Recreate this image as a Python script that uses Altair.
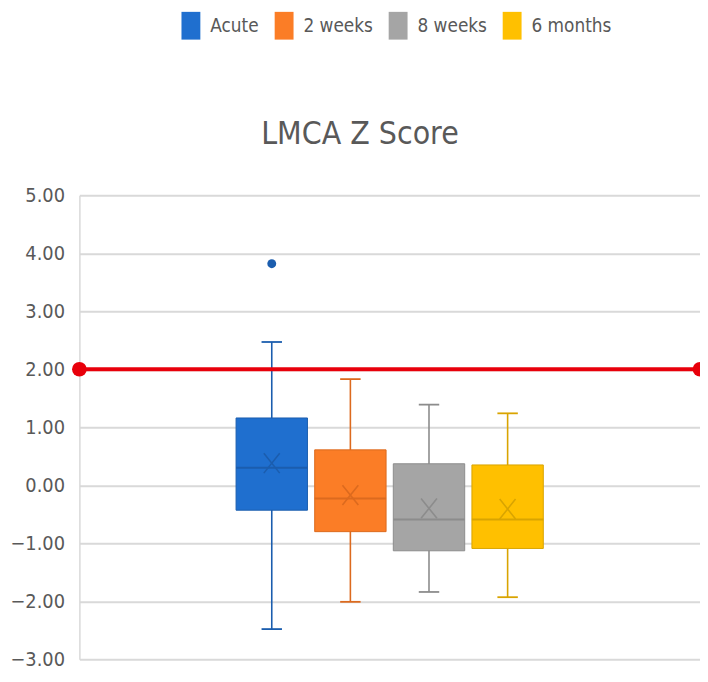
import altair as alt
import pandas as pd

# ---- data ----
groups = ["Acute", "2 weeks", "8 weeks", "6 months"]
q1 = [-0.43, -0.80, -1.13, -1.09]
q3 = [1.16, 0.61, 0.37, 0.35]
median = [0.30, -0.23, -0.59, -0.59]
mean = [0.38, -0.17, -0.40, -0.41]
whisk_lo = [-2.48, -2.01, -1.84, -1.93]
whisk_hi = [2.47, 1.83, 1.39, 1.24]
outlier_group = ["Acute"]
outlier_val = [3.82]
threshold = 2.0
y_ticks = [-3, -2, -1, 0, 1, 2, 3, 4, 5]
chart_title = ["LMCA Z Score"]

fill_colors = ["#1F6FCF", "#FB7D26", "#A5A5A5", "#FFC000"]
dark_colors = ["#1B5DAE", "#DC6A1E", "#8C8C8C", "#D9A400"]

FONT = "DejaVu Sans Condensed, DejaVu Sans, sans-serif"
HALF_BOX = 0.454
HALF_CAP = 0.13
X_DOMAIN = [1.5 - 3.947, 1.5 + 3.947]

idx = list(range(len(groups)))
df = pd.DataFrame({
    "group": groups,
    "idx": idx,
    "q1": q1, "q3": q3, "median": median, "mean": mean,
    "lo": whisk_lo, "hi": whisk_hi,
    "dark": dark_colors,
})
df["xl"] = df["idx"] - HALF_BOX
df["xr"] = df["idx"] + HALF_BOX
df["cl"] = df["idx"] - HALF_CAP
df["cr"] = df["idx"] + HALF_CAP

out_df = pd.DataFrame({
    "group": outlier_group,
    "idx": [groups.index(g) for g in outlier_group],
    "val": outlier_val,
    "dark": [dark_colors[groups.index(g)] for g in outlier_group],
})
thr_df = pd.DataFrame({"x": X_DOMAIN, "y": [threshold, threshold]})
title_df = pd.DataFrame({"t": chart_title})

xs = alt.Scale(domain=X_DOMAIN, nice=False, zero=False)
ys = alt.Scale(domain=[-3, 5], nice=False, zero=False)

base = alt.Chart(df)

whisker = base.mark_rule(strokeWidth=1.6).encode(
    x=alt.X("idx:Q", scale=xs, axis=None),
    y=alt.Y("lo:Q", scale=ys, axis=alt.Axis(
        values=y_ticks, format=".2f", title=None, ticks=False,
        grid=True, gridColor="#D9D9D9", gridWidth=2,
        domain=True, domainColor="#D9D9D9", domainWidth=1.5,
        labelFont=FONT, labelFontSize=20, labelColor="#595959",
        labelPadding=15)),
    y2="hi:Q",
    stroke=alt.Stroke("dark:N", scale=None),
)
cap_lo = base.mark_rule(strokeWidth=1.8).encode(
    x=alt.X("cl:Q", scale=xs), x2="cr:Q",
    y=alt.Y("lo:Q", scale=ys),
    stroke=alt.Stroke("dark:N", scale=None),
)
cap_hi = base.mark_rule(strokeWidth=1.8).encode(
    x=alt.X("cl:Q", scale=xs), x2="cr:Q",
    y=alt.Y("hi:Q", scale=ys),
    stroke=alt.Stroke("dark:N", scale=None),
)
box = base.mark_bar(strokeWidth=1, opacity=1).encode(
    x=alt.X("xl:Q", scale=xs), x2="xr:Q",
    y=alt.Y("q1:Q", scale=ys), y2="q3:Q",
    color=alt.Color("group:N", sort=groups,
                    scale=alt.Scale(domain=groups, range=fill_colors),
                    legend=alt.Legend(
                        title=None, orient="none", direction="horizontal",
                        legendX=98.5, legendY=-185,
                        symbolType="M-0.68,-1H0.68V1H-0.68Z",
                        symbolSize=784, symbolStrokeWidth=0,
                        symbolOpacity=1,
                        labelFont=FONT, labelFontSize=19,
                        labelColor="#595959", labelOffset=5.5,
                        columnPadding=11)),
    stroke=alt.Stroke("dark:N", scale=None),
)
med = base.mark_rule(strokeWidth=2).encode(
    x=alt.X("xl:Q", scale=xs), x2="xr:Q",
    y=alt.Y("median:Q", scale=ys),
    stroke=alt.Stroke("dark:N", scale=None),
)
mean_pt = base.mark_point(shape="M-0.8,-1L0.8,1M-0.8,1L0.8,-1",
                          filled=False, size=400, strokeWidth=1.6,
                          opacity=1).encode(
    x=alt.X("idx:Q", scale=xs),
    y=alt.Y("mean:Q", scale=ys),
    stroke=alt.Stroke("dark:N", scale=None),
)
outl = alt.Chart(out_df).mark_point(shape="circle", filled=True, size=80,
                                    opacity=1).encode(
    x=alt.X("idx:Q", scale=xs),
    y=alt.Y("val:Q", scale=ys),
    fill=alt.Fill("dark:N", scale=None),
)
thr_line = alt.Chart(thr_df).mark_line(color="#E8000B", strokeWidth=4).encode(
    x=alt.X("x:Q", scale=xs),
    y=alt.Y("y:Q", scale=ys),
)
thr_pts = alt.Chart(thr_df).mark_point(shape="circle", filled=True, size=220,
                                       color="#E8000B", opacity=1).encode(
    x=alt.X("x:Q", scale=xs),
    y=alt.Y("y:Q", scale=ys),
)
title_txt = alt.Chart(title_df).mark_text(
    font=FONT, fontSize=32, color="#595959", align="center",
    baseline="alphabetic").encode(
    text="t:N", x=alt.value(283), y=alt.value(-52),
)

chart = alt.layer(
    whisker, cap_lo, cap_hi, box, med, mean_pt, outl, thr_line, thr_pts,
    title_txt
).properties(
    width=626, height=468,
    autosize=alt.AutoSizeParams(type="none"),
    padding={"left": 72, "top": 186, "right": 0, "bottom": 12},
).configure_view(strokeWidth=0)

chart.save("out.html", embed_options={"renderer": "svg", "actions": False})
